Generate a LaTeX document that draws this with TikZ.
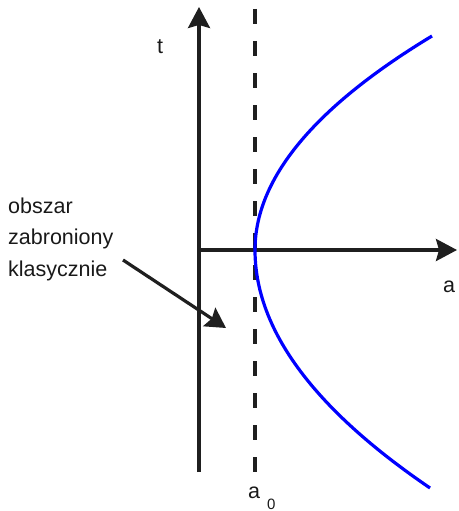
\documentclass[tikz,border=0pt]{standalone}
\usepackage{fontspec}
\setmainfont{Liberation Sans}
\usetikzlibrary{arrows.meta}
\begin{document}
\begin{tikzpicture}[x=1pt,y=-1pt,
  axis/.style={line width=3.2pt,draw=black!88,-{Stealth[length=21pt,width=22pt,inset=3pt]}},
  guide/.style={line width=3.2pt,draw=black!88,dash pattern=on 15pt off 17pt},
  curvestyle/.style={line width=3.2pt,draw=blue},
  pointer/.style={line width=3.2pt,draw=black!88,-{Stealth[length=20pt,width=22pt,inset=3pt]}},
  lbl/.style={inner sep=0pt,font=\fontsize{21.5}{25}\selectfont,text=black!90}]
\useasboundingbox (0,0) rectangle (458,511);
% coordinates
\coordinate (vbot) at (199,472);
\coordinate (vtop) at (199,7);
\coordinate (hleft) at (199,250);
\coordinate (hright) at (457,250);
\coordinate (dtop) at (255,9);
\coordinate (dbot) at (255,472);
\coordinate (ps) at (123,260);
\coordinate (pe) at (226,328);
% axes
\draw[axis] (vbot) -- (vtop);
\draw[axis] (hleft) -- (hright);
\draw[guide] (dtop) -- (dbot);
% curve
\draw[curvestyle] plot[domain=-21.4:0,samples=60,smooth] ({255+0.3865*\x*\x},{250+10*\x})
  -- plot[domain=0:23.8,samples=60,smooth] ({255+0.309*\x*\x},{250+10*\x});
% labels
\node[lbl,anchor=base] (tl) at (160,53) {t};
\node[lbl,anchor=base] (al) at (449,292) {a};
\node[lbl,anchor=base west] (a0) at (248,498) {a\hspace{7pt}\raisebox{-11pt}{\fontsize{15}{15}\selectfont 0}};
\node[lbl,anchor=base west] (l1) at (8,213) {obszar};
\node[lbl,anchor=base west] (l2) at (8,244.5) {zabroniony};
\node[lbl,anchor=base west] (l3) at (8,276) {klasycznie};
\draw[pointer] (ps) -- (pe);
\end{tikzpicture}
\end{document}
